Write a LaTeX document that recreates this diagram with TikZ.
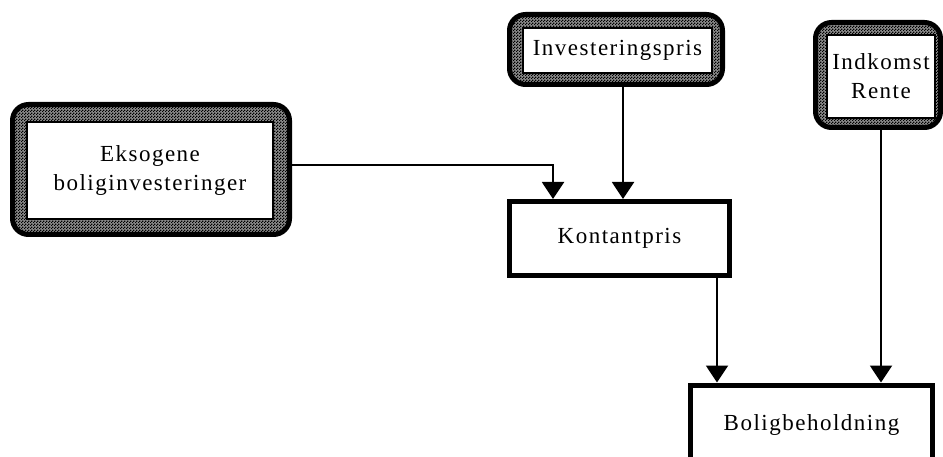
\documentclass[tikz,border=0pt]{standalone}
\usepackage{fontspec}
\setmainfont{Liberation Serif}[LetterSpace=6.5]
\usetikzlibrary{arrows.meta,patterns}

% fine two-tone checker used for the framed (exogenous) boxes
\pgfdeclarepatternformonly{finecheck}{\pgfpointorigin}{\pgfqpoint{3pt}{3pt}}{\pgfqpoint{3pt}{3pt}}{%
  \pgfpathrectangle{\pgfpointorigin}{\pgfqpoint{1.5pt}{1.5pt}}%
  \pgfpathrectangle{\pgfqpoint{1.5pt}{1.5pt}}{\pgfqpoint{1.5pt}{1.5pt}}%
  \pgfusepath{fill}}

\tikzset{
  boxfont/.style={font=\fontsize{23}{29}\selectfont},
  frame/.style={draw, line width=5pt, rounded corners=16pt,
    preaction={fill=black!45}, pattern=finecheck, pattern color=black, inner sep=0pt},
  inbox/.style={draw, line width=1.5pt, fill=white, inner sep=0pt, align=center, boxfont},
  block/.style={draw, line width=5pt, fill=white, inner sep=0pt, align=center, boxfont},
  flow/.style={line width=2pt, -{Triangle[width=22pt,length=17pt]}}
}

\begin{document}
\begin{tikzpicture}[x=1pt, y=-1pt]
  \useasboundingbox (0,0) rectangle (943,457);

  % exogenous inputs: hatched frame with a white label box inside
  \node[frame, minimum width=277pt, minimum height=130pt] (ekf) at (151,169.5) {};
  \node[inbox, minimum width=246pt, minimum height=97pt] (ek) at (150,170.5)
    {Eksogene\\boliginvesteringer};

  \node[frame, minimum width=213pt, minimum height=70pt] (invf) at (616,49.5) {};
  \node[inbox, minimum width=189pt, minimum height=45pt] (inv) at (617.5,50.5)
    {Investeringspris};

  \node[frame, minimum width=125pt, minimum height=105pt] (indf) at (878,75) {};
  \node[inbox, minimum width=108pt, minimum height=83pt] (ind) at (881,76.5)
    {Indkomst\\Rente};

  % model blocks
  \node[block, minimum width=220pt, minimum height=74pt] (kont) at (619.5,238.5)
    {Kontantpris};
  \node[block, minimum width=242pt, minimum height=80pt, anchor=north] (bolig) at (811.5,382.5)
    {Boligbeholdning};

  % entry points of the connectors
  \coordinate (bend) at (553,165);
  \coordinate (kin2) at (623,199);
  \coordinate (bin1) at (717,380);
  \coordinate (bin2) at (881,380);

  \draw[flow] (ekf.east |- bend) -- (bend) -- (kont.north -| bend);
  \draw[flow] (invf.south -| kin2) -- (kont.north -| kin2);
  \draw[flow] (kont.south -| bin1) -- (bolig.north -| bin1);
  \draw[flow] (indf.south -| bin2) -- (bolig.north -| bin2);
\end{tikzpicture}
\end{document}
